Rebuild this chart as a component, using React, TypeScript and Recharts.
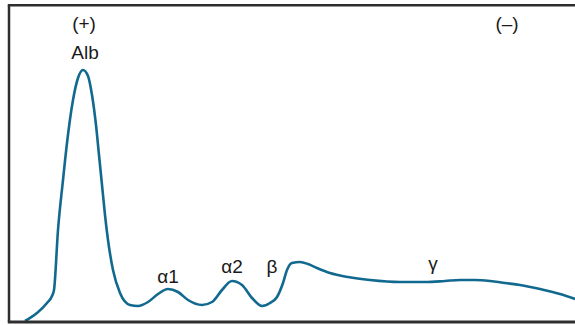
import { LineChart, Line, XAxis, YAxis, ReferenceLine, ReferenceDot } from "recharts";

// densitometer trace, x = migration distance, y = intensity above baseline
const positions = [
  25, 37, 47, 52, 54, 58, 63, 67, 73, 78, 83, 88, 92, 96, 99, 102, 105, 108,
  113, 120, 130, 138, 148, 158, 168, 178, 188, 202, 212, 222, 232, 242, 252,
  262, 270, 277, 283, 287, 292, 300, 308, 317, 330, 348, 370, 400, 425, 445,
  460, 475, 490, 505, 520, 540, 560, 575,
];
const intensity = [
  0, 8, 18, 25, 31, 91, 141, 178, 221, 243, 251, 245, 226, 196, 166, 136, 106,
  81, 51, 28, 16, 15, 19, 27, 32, 29, 21, 16, 19, 31, 40, 36, 23, 15, 18, 24,
  38, 51, 58, 59, 57, 53, 48, 44, 41, 39, 39, 40, 41, 41, 40, 38, 36, 32, 27,
  22,
];

const labelNames = ["(+)", "Alb", "(\u2013)", "\u03b11", "\u03b12", "\u03b2", "\u03b3"];
const labelX = [84, 85, 507, 168, 232, 272, 433];
const labelY = [291, 262, 291, 38, 48, 48, 51];

const chartData = positions.map((x, i) => ({ x, v: intensity[i] }));

const FRAME = "#2e2e2e";

export default function App() {
  return (
    <div style={{ position: "absolute", left: 0, top: 0 }}>
      <LineChart
        width={575}
        height={325}
        data={chartData}
        margin={{ top: 0, right: 0, bottom: 0, left: 0 }}
      >
        <XAxis dataKey="x" type="number" domain={[0, 575]} hide />
        <YAxis type="number" domain={[-4, 321]} hide />
        <ReferenceLine
          segment={[{ x: 9, y: -1 }, { x: 9, y: 315.7 }]}
          stroke={FRAME}
          strokeWidth={2.5}
          ifOverflow="visible"
        />
        <ReferenceLine
          segment={[{ x: 7.8, y: 315.7 }, { x: 575, y: 315.7 }]}
          stroke={FRAME}
          strokeWidth={2.5}
          ifOverflow="visible"
        />
        <Line
          type="monotone"
          dataKey="v"
          stroke="#12698f"
          strokeWidth={2.6}
          dot={false}
          activeDot={false}
          isAnimationActive={false}
        />
        <ReferenceLine
          segment={[{ x: 7.8, y: -1 }, { x: 575, y: -1 }]}
          stroke={FRAME}
          strokeWidth={3}
          ifOverflow="visible"
        />
        {labelNames.map((name, i) => (
          <ReferenceDot
            key={name}
            x={labelX[i]}
            y={labelY[i]}
            r={1}
            ifOverflow="visible"
            shape={(p: any) => (
              <text
                x={p.cx}
                y={p.cy}
                textAnchor="middle"
                fontFamily="'Liberation Sans', Arial, sans-serif"
                fontSize={19}
                fill="#1a1a1a"
              >
                {name}
              </text>
            )}
          />
        ))}
      </LineChart>
    </div>
  );
}
